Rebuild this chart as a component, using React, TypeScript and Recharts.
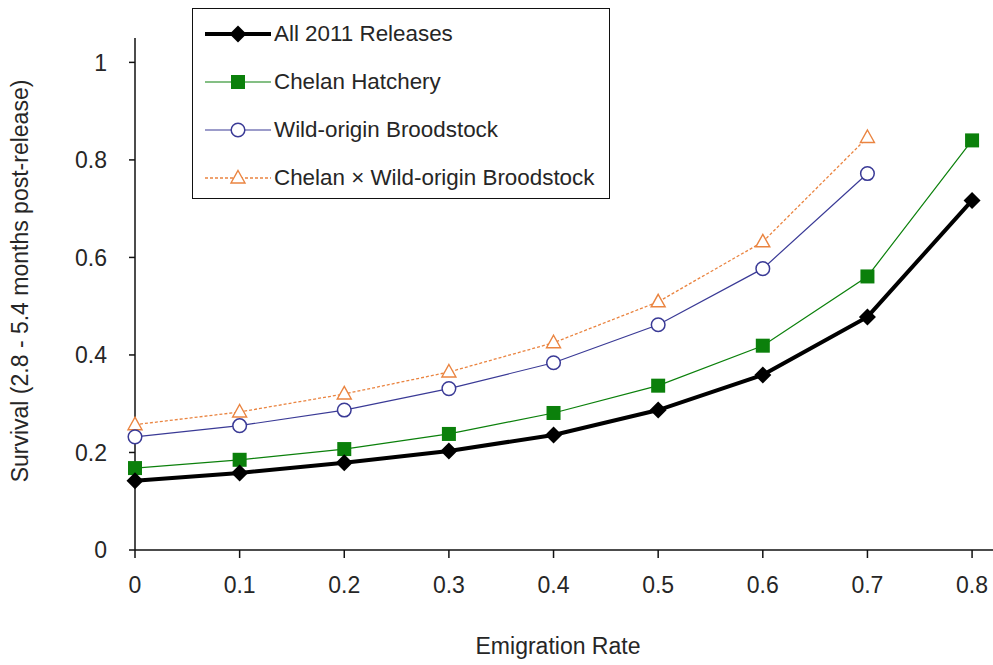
import React from 'react';
import { LineChart, Line, XAxis, YAxis, Legend } from 'recharts';

const emigrationRates = [0, 0.1, 0.2, 0.3, 0.4, 0.5, 0.6, 0.7, 0.8];
const allReleases = [0.142, 0.158, 0.179, 0.203, 0.236, 0.287, 0.359, 0.478, 0.717];
const chelanHatchery = [0.168, 0.185, 0.207, 0.238, 0.281, 0.337, 0.419, 0.561, 0.84];
const wildOrigin = [0.232, 0.255, 0.287, 0.331, 0.384, 0.462, 0.577, 0.772, null];
const chelanXWild = [0.257, 0.283, 0.32, 0.365, 0.425, 0.509, 0.632, 0.846, null];

const xTicks = [0, 0.1, 0.2, 0.3, 0.4, 0.5, 0.6, 0.7, 0.8];
const yTicks = [0, 0.2, 0.4, 0.6, 0.8, 1];

const data = emigrationRates.map((rate, i) => ({
  rate,
  all: allReleases[i],
  chelan: chelanHatchery[i],
  wild: wildOrigin[i],
  cross: chelanXWild[i],
}));

const FONT = "'Liberation Sans', Arial, sans-serif";
const TEXT = '#262626';
const GREEN = '#0b800b';
const BLUE = '#3a3a96';
const ORANGE = '#ea8440';

type Shape = 'diamond' | 'square' | 'circle' | 'triangle';

function marker(shape: Shape, cx: number, cy: number, color: string, key?: string) {
  if (shape === 'diamond') {
    const r = 8.5;
    return <path key={key} d={`M${cx},${cy - r}L${cx + r},${cy}L${cx},${cy + r}L${cx - r},${cy}Z`} fill="#000" />;
  }
  if (shape === 'square') {
    return <rect key={key} x={cx - 7} y={cy - 7} width={14} height={14} fill={color} />;
  }
  if (shape === 'circle') {
    return <circle key={key} cx={cx} cy={cy} r={6.8} fill="#fff" stroke={color} strokeWidth={1.5} />;
  }
  return (
    <path
      key={key}
      d={`M${cx},${cy - 7.5}L${cx + 7},${cy + 5}L${cx - 7},${cy + 5}Z`}
      fill="#fff"
      stroke={color}
      strokeWidth={1.4}
    />
  );
}

const series = [
  { key: 'all', name: 'All 2011 Releases', color: '#000', width: 4, dash: undefined, shape: 'diamond' as Shape },
  { key: 'chelan', name: 'Chelan Hatchery', color: GREEN, width: 1.2, dash: undefined, shape: 'square' as Shape },
  { key: 'wild', name: 'Wild-origin Broodstock', color: BLUE, width: 1.2, dash: undefined, shape: 'circle' as Shape },
  { key: 'cross', name: 'Chelan \u00d7 Wild-origin Broodstock', color: ORANGE, width: 1.3, dash: '3 2', shape: 'triangle' as Shape },
];

const dotFor = (shape: Shape, color: string) => (props: any) => {
  const { cx, cy, index, value } = props;
  const k = `${shape}-${index}`;
  if (cx == null || cy == null || value == null) return <g key={k} />;
  return marker(shape, cx, cy, color, k);
};

function LegendBox() {
  return (
    <div
      style={{
        width: 418,
        height: 191,
        boxSizing: 'border-box',
        border: '1.5px solid #111',
        background: '#fff',
        paddingTop: 1,
        fontFamily: FONT,
        fontSize: 22.4,
        color: TEXT,
      }}
    >
      {series.map((s) => (
        <div key={s.key} style={{ height: 48, display: 'flex', alignItems: 'center', paddingLeft: 12 }}>
          <svg width={66} height={22} style={{ marginRight: 3 }}>
            <line x1={0} x2={66} y1={11} y2={11} stroke={s.color} strokeWidth={s.width} strokeDasharray={s.dash} />
            {marker(s.shape, 33, 11, s.color)}
          </svg>
          <span>{s.name}</span>
        </div>
      ))}
    </div>
  );
}

export default function App() {
  const drawOrder = [...series].reverse();
  return (
    <div style={{ position: 'absolute', left: 0, top: 0, background: '#fff' }}>
      <LineChart width={993} height={665} data={data} margin={{ top: 38, right: 0, bottom: 55, left: 75 }}>
        <XAxis
          dataKey="rate"
          type="number"
          domain={[0, 0.82]}
          ticks={xTicks}
          tickFormatter={(v: number) => (v === 0 ? '0' : String(v))}
          height={60}
          tickSize={8}
          tickMargin={19}
          axisLine={{ stroke: '#111', strokeWidth: 1.5 }}
          tickLine={{ stroke: '#111', strokeWidth: 1.5 }}
          tick={{ fill: TEXT, fontSize: 23, fontFamily: FONT }}
          label={{
            content: () => (
              <text x={558} y={654} textAnchor="middle" fill={TEXT} fontSize={23} fontFamily={FONT}>
                Emigration Rate
              </text>
            ),
          }}
        />
        <YAxis
          type="number"
          domain={[0, 1.05]}
          ticks={yTicks}
          tickFormatter={(v: number) => String(v)}
          width={60}
          tickSize={6}
          tickMargin={22}
          axisLine={{ stroke: '#111', strokeWidth: 1.5 }}
          tickLine={{ stroke: '#111', strokeWidth: 1.5 }}
          tick={{ fill: TEXT, fontSize: 23, fontFamily: FONT }}
          label={{
            content: () => (
              <text
                x={28}
                y={281}
                transform="rotate(-90, 28, 281)"
                textAnchor="middle"
                fill={TEXT}
                fontSize={23}
                fontFamily={FONT}
              >
                Survival (2.8 - 5.4 months post-release)
              </text>
            ),
          }}
        />
        <Legend
          layout="horizontal"
          verticalAlign="middle"
          align="center"
          content={() => <LegendBox />}
          wrapperStyle={{ left: 192, top: 8, width: 418, height: 191 }}
        />
        {drawOrder.map((s) => (
          <Line
            key={s.key}
            dataKey={s.key}
            name={s.name}
            type="linear"
            stroke={s.color}
            strokeWidth={s.width}
            strokeDasharray={s.dash}
            dot={dotFor(s.shape, s.color)}
            activeDot={false}
            connectNulls={false}
            isAnimationActive={false}
          />
        ))}
      </LineChart>
    </div>
  );
}
